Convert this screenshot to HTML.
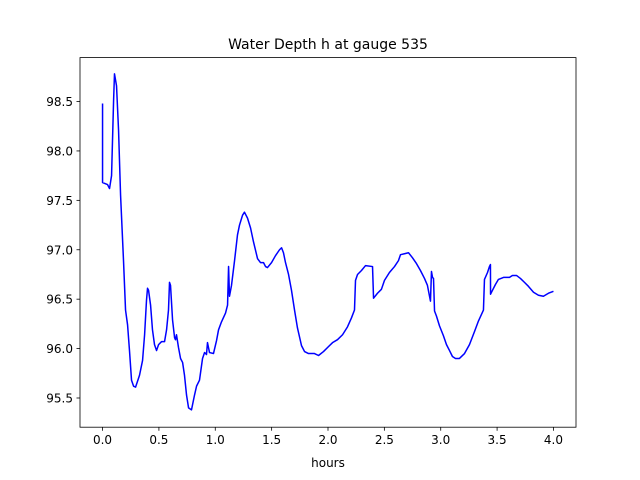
<!DOCTYPE html>
<html><head><meta charset="utf-8"><style>
body{margin:0;background:#fff}
svg{display:block;font-family:"DejaVu Sans","Liberation Sans",sans-serif}
</style></head><body>
<svg id="chart" width="640" height="480">
<rect x="0" y="0" width="640" height="480" fill="#fff"/>
<text x="328" y="49" text-anchor="middle" font-size="14">Water Depth h at gauge 535</text>
<g id="ticks"></g>
<path id="line" fill="none" stroke="#0000ff" stroke-width="1.5" stroke-linejoin="round"/>
<rect x="80" y="57.6" width="496" height="369.6" fill="none" stroke="#000" stroke-width="0.8"/>
<text x="328" y="467" text-anchor="middle" font-size="12">hours</text>
</svg>
<script>
const hours=[0,0,0.044,0.062,0.080,0.098,0.106,0.124,0.142,0.160,0.186,0.204,0.222,0.239,0.257,0.275,0.293,0.328,0.355,0.373,0.390,0.399,0.408,0.426,0.443,0.461,0.479,0.497,0.523,0.550,0.568,0.585,0.594,0.603,0.621,0.639,0.647,0.656,0.674,0.692,0.710,0.727,0.745,0.763,0.789,0.816,0.834,0.860,0.887,0.905,0.922,0.931,0.949,0.984,1.011,1.029,1.055,1.091,1.109,1.118,1.126,1.144,1.171,1.197,1.215,1.242,1.259,1.286,1.313,1.339,1.375,1.401,1.428,1.446,1.463,1.499,1.534,1.570,1.588,1.605,1.623,1.650,1.676,1.703,1.729,1.765,1.792,1.827,1.880,1.916,1.960,2.004,2.040,2.084,2.129,2.173,2.208,2.235,2.244,2.262,2.297,2.333,2.395,2.404,2.439,2.474,2.501,2.545,2.590,2.625,2.643,2.678,2.714,2.749,2.785,2.820,2.856,2.882,2.909,2.918,2.927,2.936,2.945,2.962,2.989,3.024,3.051,3.078,3.104,3.131,3.166,3.211,3.255,3.299,3.335,3.379,3.388,3.415,3.432,3.441,3.442,3.459,3.486,3.512,3.557,3.610,3.636,3.672,3.707,3.743,3.778,3.823,3.867,3.911,3.956,4.0];
const depth=[98.48,97.68,97.66,97.62,97.75,98.51,98.78,98.66,98.21,97.55,96.89,96.39,96.24,95.98,95.68,95.62,95.61,95.73,95.88,96.14,96.49,96.61,96.59,96.44,96.19,96.04,95.98,96.04,96.07,96.07,96.19,96.39,96.67,96.64,96.29,96.11,96.09,96.14,96.01,95.90,95.86,95.73,95.53,95.40,95.38,95.53,95.62,95.68,95.90,95.96,95.94,96.06,95.96,95.95,96.08,96.19,96.27,96.36,96.44,96.83,96.53,96.64,96.89,97.15,97.25,97.35,97.38,97.32,97.22,97.08,96.91,96.87,96.87,96.83,96.82,96.87,96.94,97.00,97.02,96.97,96.87,96.75,96.59,96.39,96.21,96.03,95.97,95.95,95.95,95.93,95.97,96.02,96.06,96.09,96.14,96.22,96.31,96.39,96.69,96.75,96.79,96.84,96.83,96.51,96.56,96.60,96.69,96.77,96.83,96.89,96.95,96.96,96.97,96.92,96.86,96.79,96.71,96.64,96.48,96.78,96.72,96.71,96.38,96.33,96.23,96.13,96.04,95.98,95.92,95.90,95.90,95.95,96.04,96.17,96.28,96.39,96.70,96.77,96.83,96.85,96.55,96.59,96.65,96.70,96.72,96.72,96.74,96.74,96.71,96.67,96.63,96.57,96.54,96.53,96.56,96.58];
const xTicks=[0,0.5,1,1.5,2,2.5,3,3.5,4];
const yTicks=[95.5,96,96.5,97,97.5,98,98.5];
const X0=80,X1=576,Y0=57.6,Y1=427.2,xmin=-0.2,xmax=4.2,ymin=95.2045,ymax=98.9445;
const sx=v=>X0+(v-xmin)/(xmax-xmin)*(X1-X0);
const sy=v=>Y1-(v-ymin)/(ymax-ymin)*(Y1-Y0);
const NS="http://www.w3.org/2000/svg";
const g=document.getElementById('ticks');
xTicks.forEach(t=>{
  const l=document.createElementNS(NS,'line');
  l.setAttribute('x1',sx(t));l.setAttribute('x2',sx(t));l.setAttribute('y1',Y1);l.setAttribute('y2',Y1+3.5);
  l.setAttribute('stroke','#000');l.setAttribute('stroke-width','0.8');
  
  
  g.appendChild(l);
  const tx=document.createElementNS(NS,'text');
  tx.setAttribute('x',sx(t));tx.setAttribute('y',Y1+17);tx.setAttribute('text-anchor','middle');tx.setAttribute('font-size','12');
  tx.textContent=t.toFixed(1);
  
  
  g.appendChild(tx);
});
yTicks.forEach(t=>{
  const l=document.createElementNS(NS,'line');
  l.setAttribute('x1',X0-3.5);l.setAttribute('x2',X0);l.setAttribute('y1',sy(t));l.setAttribute('y2',sy(t));
  l.setAttribute('stroke','#000');l.setAttribute('stroke-width','0.8');
  
  
  g.appendChild(l);
  const tx=document.createElementNS(NS,'text');
  tx.setAttribute('x',X0-7);tx.setAttribute('y',sy(t)+4.5);tx.setAttribute('text-anchor','end');tx.setAttribute('font-size','12');
  tx.textContent=t.toFixed(1);
  
  
  g.appendChild(tx);
});
document.getElementById('line').setAttribute('d',hours.map((h,i)=>(i?'L':'M')+sx(h).toFixed(2)+','+sy(depth[i]).toFixed(2)).join(''));
</script>
</body></html>
